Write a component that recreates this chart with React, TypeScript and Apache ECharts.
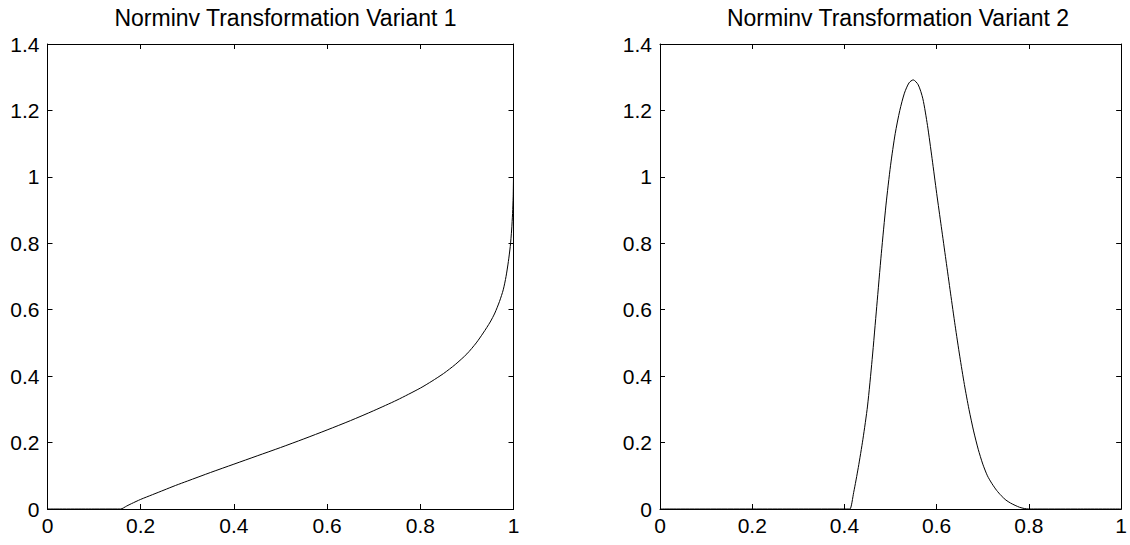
import React, { useEffect, useRef } from "react";
import * as echarts from "echarts";

const titles = ["Norminv Transformation Variant 1", "Norminv Transformation Variant 2"];

// Variant 1 curve
const v1X = [0, 0.1, 0.15, 0.157, 0.17, 0.18, 0.2, 0.225, 0.25, 0.275, 0.3, 0.35, 0.4, 0.45, 0.5, 0.55, 0.6, 0.65, 0.7, 0.75, 0.8, 0.825, 0.85, 0.875, 0.9, 0.92, 0.935, 0.95, 0.96, 0.97, 0.978, 0.984, 0.989, 0.993, 0.996, 0.998, 0.9993, 1.0];
const v1Y = [0, 0, 0, 0, 0.009, 0.016, 0.029, 0.043, 0.057, 0.071, 0.084, 0.11, 0.135, 0.16, 0.185, 0.211, 0.238, 0.266, 0.296, 0.328, 0.364, 0.385, 0.408, 0.435, 0.467, 0.5, 0.53, 0.563, 0.59, 0.625, 0.66, 0.7, 0.745, 0.79, 0.84, 0.89, 0.94, 1.0];

// Variant 2 curve
const v2X = [0, 0.3, 0.4, 0.408, 0.412, 0.42, 0.43, 0.44, 0.45, 0.46, 0.47, 0.48, 0.49, 0.5, 0.51, 0.52, 0.53, 0.54, 0.549, 0.56, 0.57, 0.58, 0.59, 0.6, 0.61, 0.62, 0.63, 0.64, 0.65, 0.66, 0.67, 0.68, 0.69, 0.7, 0.71, 0.72, 0.73, 0.74, 0.75, 0.76, 0.77, 0.78, 0.79, 0.8, 0.81, 0.9, 1.0];
const v2Y = [0, 0, 0, 0, 0, 0.05, 0.125, 0.21, 0.31, 0.45, 0.61, 0.77, 0.915, 1.035, 1.13, 1.2, 1.252, 1.283, 1.292, 1.277, 1.235, 1.155, 1.055, 0.95, 0.85, 0.75, 0.65, 0.552, 0.46, 0.375, 0.3, 0.235, 0.18, 0.135, 0.1, 0.076, 0.056, 0.04, 0.027, 0.018, 0.011, 0.005, 0.0015, 0, 0, 0, 0];

const FONT = "'Liberation Sans', Arial, Helvetica, sans-serif";

function pairs(xs: number[], ys: number[]) {
  return xs.map((x, i) => [x, ys[i]]);
}

export default function App() {
  const ref = useRef<HTMLDivElement>(null);
  useEffect(() => {
    if (!ref.current) return;
    const chart = echarts.init(ref.current, undefined, { renderer: "svg" });
    const grids = [
      { left: 47.5, top: 44, width: 466, height: 465 },
      { left: 660, top: 44, width: 466, height: 465 },
    ];
    const lineStyle = { color: "#000", width: 1 };
    const mkX = (gi: number, pos: "bottom" | "top") => ({
      type: "value",
      gridIndex: gi,
      position: pos,
      min: 0,
      max: 1,
      interval: 0.2,
      axisLine: { show: true, onZero: false, lineStyle },
      axisTick: { show: true, inside: true, length: 5, lineStyle },
      splitLine: { show: false },
      axisLabel: {
        show: pos === "bottom",
        color: "#000",
        fontSize: 21,
        fontFamily: FONT,
        margin: 6,
      },
    });
    const mkY = (gi: number, pos: "left" | "right") => ({
      type: "value",
      gridIndex: gi,
      position: pos,
      min: 0,
      max: 1.4,
      interval: 0.2,
      axisLine: { show: true, onZero: false, lineStyle },
      axisTick: { show: true, inside: true, length: 5, lineStyle },
      splitLine: { show: false },
      axisLabel: {
        show: pos === "left",
        color: "#000",
        fontSize: 21,
        fontFamily: FONT,
        margin: 8,
      },
    });
    chart.setOption({
      animation: false,
      backgroundColor: "#fff",
      title: titles.map((t, i) => ({
        text: t,
        left: grids[i].left + grids[i].width / 2,
        top: 1,
        textAlign: "center",
        textStyle: { color: "#000", fontSize: 23, fontWeight: "normal", fontFamily: FONT },
      })),
      grid: grids,
      xAxis: [mkX(0, "bottom"), mkX(0, "top"), mkX(1, "bottom"), mkX(1, "top")],
      yAxis: [mkY(0, "left"), mkY(0, "right"), mkY(1, "left"), mkY(1, "right")],
      series: [
        {
          type: "line",
          xAxisIndex: 0,
          yAxisIndex: 0,
          data: pairs(v1X, v1Y),
          showSymbol: false,
          smooth: 0.25,
          clip: true,
          lineStyle,
        },
        {
          type: "line",
          xAxisIndex: 2,
          yAxisIndex: 2,
          data: pairs(v2X, v2Y),
          showSymbol: false,
          smooth: 0.25,
          clip: true,
          lineStyle,
        },
      ],
    });
    return () => chart.dispose();
  }, []);
  return (
    <div
      ref={ref}
      style={{ position: "fixed", left: 0, top: 0, width: 1130, height: 545, background: "#fff" }}
    />
  );
}
